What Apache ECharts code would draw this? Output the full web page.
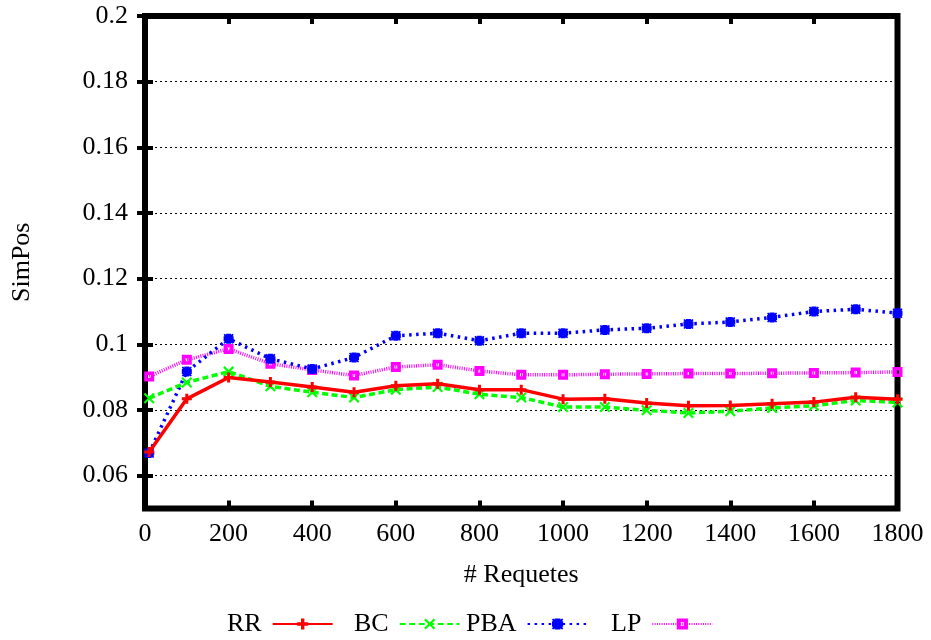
<!DOCTYPE html>
<html>
<head>
<meta charset="utf-8">
<script src="https://cdn.jsdelivr.net/npm/echarts@6/dist/echarts.min.js"></script>
<style>html,body{margin:0;padding:0;background:#fff}#c{width:931px;height:640px}</style>
</head>
<body>
<div id="c"></div>
<script>
var requetes = [10,100,200,300,400,500,600,700,800,900,1000,1100,1200,1300,1400,1500,1600,1700,1800];
var rr  = [0.0672,0.0834,0.0899,0.0885,0.0870,0.0854,0.0874,0.0880,0.0862,0.0862,0.0833,0.0834,0.0821,0.0813,0.0814,0.0819,0.0824,0.0839,0.0833];
var bc  = [0.0836,0.0884,0.0917,0.0872,0.0854,0.0838,0.0862,0.0870,0.0848,0.0838,0.0809,0.0809,0.0799,0.0791,0.0796,0.0806,0.0813,0.0829,0.0823];
var pba = [0.0669,0.0917,0.1017,0.0956,0.0925,0.0960,0.1026,0.1034,0.1011,0.1034,0.1034,0.1044,0.1049,0.1062,0.1068,0.1082,0.1100,0.1107,0.1095];
var lp  = [0.0902,0.0953,0.0986,0.0941,0.0922,0.0905,0.0931,0.0938,0.0919,0.0907,0.0907,0.0909,0.0910,0.0911,0.0911,0.0912,0.0913,0.0914,0.0916];
var yTicks = [0.06,0.08,0.1,0.12,0.14,0.16,0.18,0.2];
var seriesNames = ['RR','BC','PBA','LP'];

function pairs(ys){ return requetes.map(function(x,i){ return [x, ys[i]]; }); }

var FONT = 'Liberation Serif';
var FS = 26;
var chart = echarts.init(document.getElementById('c'), null, {renderer:'canvas'});

var tickStyle = {show:true, inside:true, length:8, lineStyle:{color:'#000', width:4}};
var gridLine = {show:true, lineStyle:{color:'#000', width:1, type:[2,3]}};

var plusPath = 'path://M3.5,0H6.5V3.5H10V6.5H6.5V10H3.5V6.5H0V3.5H3.5Z';
var xPath = 'path://M1.4,0L5,3.6L8.6,0L10,1.4L6.4,5L10,8.6L8.6,10L5,6.4L1.4,10L0,8.6L3.6,5L0,1.4Z';
var starPath = 'path://M2.5,0H7.5V1L9,0L10,1L9,2.5H10V7.5H9L10,9L9,10L7.5,9V10H2.5V9L1,10L0,9L1,7.5H0V2.5H1L0,1L1,0L2.5,1Z';
var boxPath = 'path://M0,0H10V10H0Z M3.5,3.5V6.5H6.5V3.5Z';

function legendAt(name, left){
  return {
    data:[name], left:left, top:611, orient:'horizontal', align:'right', padding:0,
    itemWidth:60, itemHeight:14, itemGap:0,
    textStyle:{fontFamily:FONT, fontSize:FS, color:'#000', padding:[0,6,0,0]}
  };
}

var option = {
  backgroundColor:'#fff',
  animation:false,
  grid:{left:145, right:33.5, top:16, bottom:131.5, show:true, borderColor:'#000', borderWidth:6, backgroundColor:'transparent'},
  legend:[legendAt('RR',227), legendAt('BC',354), legendAt('PBA',466), legendAt('LP',611)],
  xAxis:[{
    type:'value', min:0, max:1800, interval:200, position:'bottom',
    name:'# Requetes', nameLocation:'middle', nameGap:54,
    nameTextStyle:{fontFamily:FONT, fontSize:FS, color:'#000'},
    axisLine:{show:false}, axisTick:tickStyle, splitLine:{show:false},
    axisLabel:{fontFamily:FONT, fontSize:FS, color:'#000', margin:13, formatter:function(v){return String(v);}}
  },{
    type:'value', min:0, max:1800, interval:200, position:'top',
    axisLine:{show:false}, axisTick:tickStyle, splitLine:{show:false}, axisLabel:{show:false}
  }],
  yAxis:[{
    type:'value', min:0.05, max:0.2, position:'left',
    name:'SimPos', nameLocation:'middle', nameGap:110, nameRotate:90,
    nameTextStyle:{fontFamily:FONT, fontSize:FS, color:'#000'},
    axisLine:{show:false},
    axisTick:Object.assign({customValues:yTicks}, tickStyle),
    splitLine:gridLine,
    axisLabel:{customValues:yTicks, fontFamily:FONT, fontSize:FS, color:'#000', margin:17}
  },{
    type:'value', min:0.05, max:0.2, position:'right',
    axisLine:{show:false},
    axisTick:Object.assign({customValues:yTicks}, tickStyle),
    splitLine:{show:false},
    axisLabel:{show:false, customValues:yTicks}
  }],
  series:[
    {name:'RR', type:'line', data:pairs(rr), symbol:plusPath, symbolSize:10,
     lineStyle:{color:'#ff0000', width:3.5, type:'solid'}, itemStyle:{color:'#ff0000'}, z:4},
    {name:'BC', type:'line', data:pairs(bc), symbol:xPath, symbolSize:11,
     lineStyle:{color:'#00ff00', width:3.5, type:[6,3.5]}, itemStyle:{color:'#00ff00'}, z:3},
    {name:'PBA', type:'line', data:pairs(pba), symbol:starPath, symbolSize:10,
     lineStyle:{color:'#0000ff', width:3.5, type:[2.5,4.5]}, itemStyle:{color:'#0000ff'}, z:2},
    {name:'LP', type:'line', data:pairs(lp), symbol:boxPath, symbolSize:10,
     lineStyle:{color:'#ff00ff', width:3.5, type:[1,1.3]}, itemStyle:{color:'#ff00ff'}, z:1}
  ]
};
chart.setOption(option);
</script>
</body>
</html>
